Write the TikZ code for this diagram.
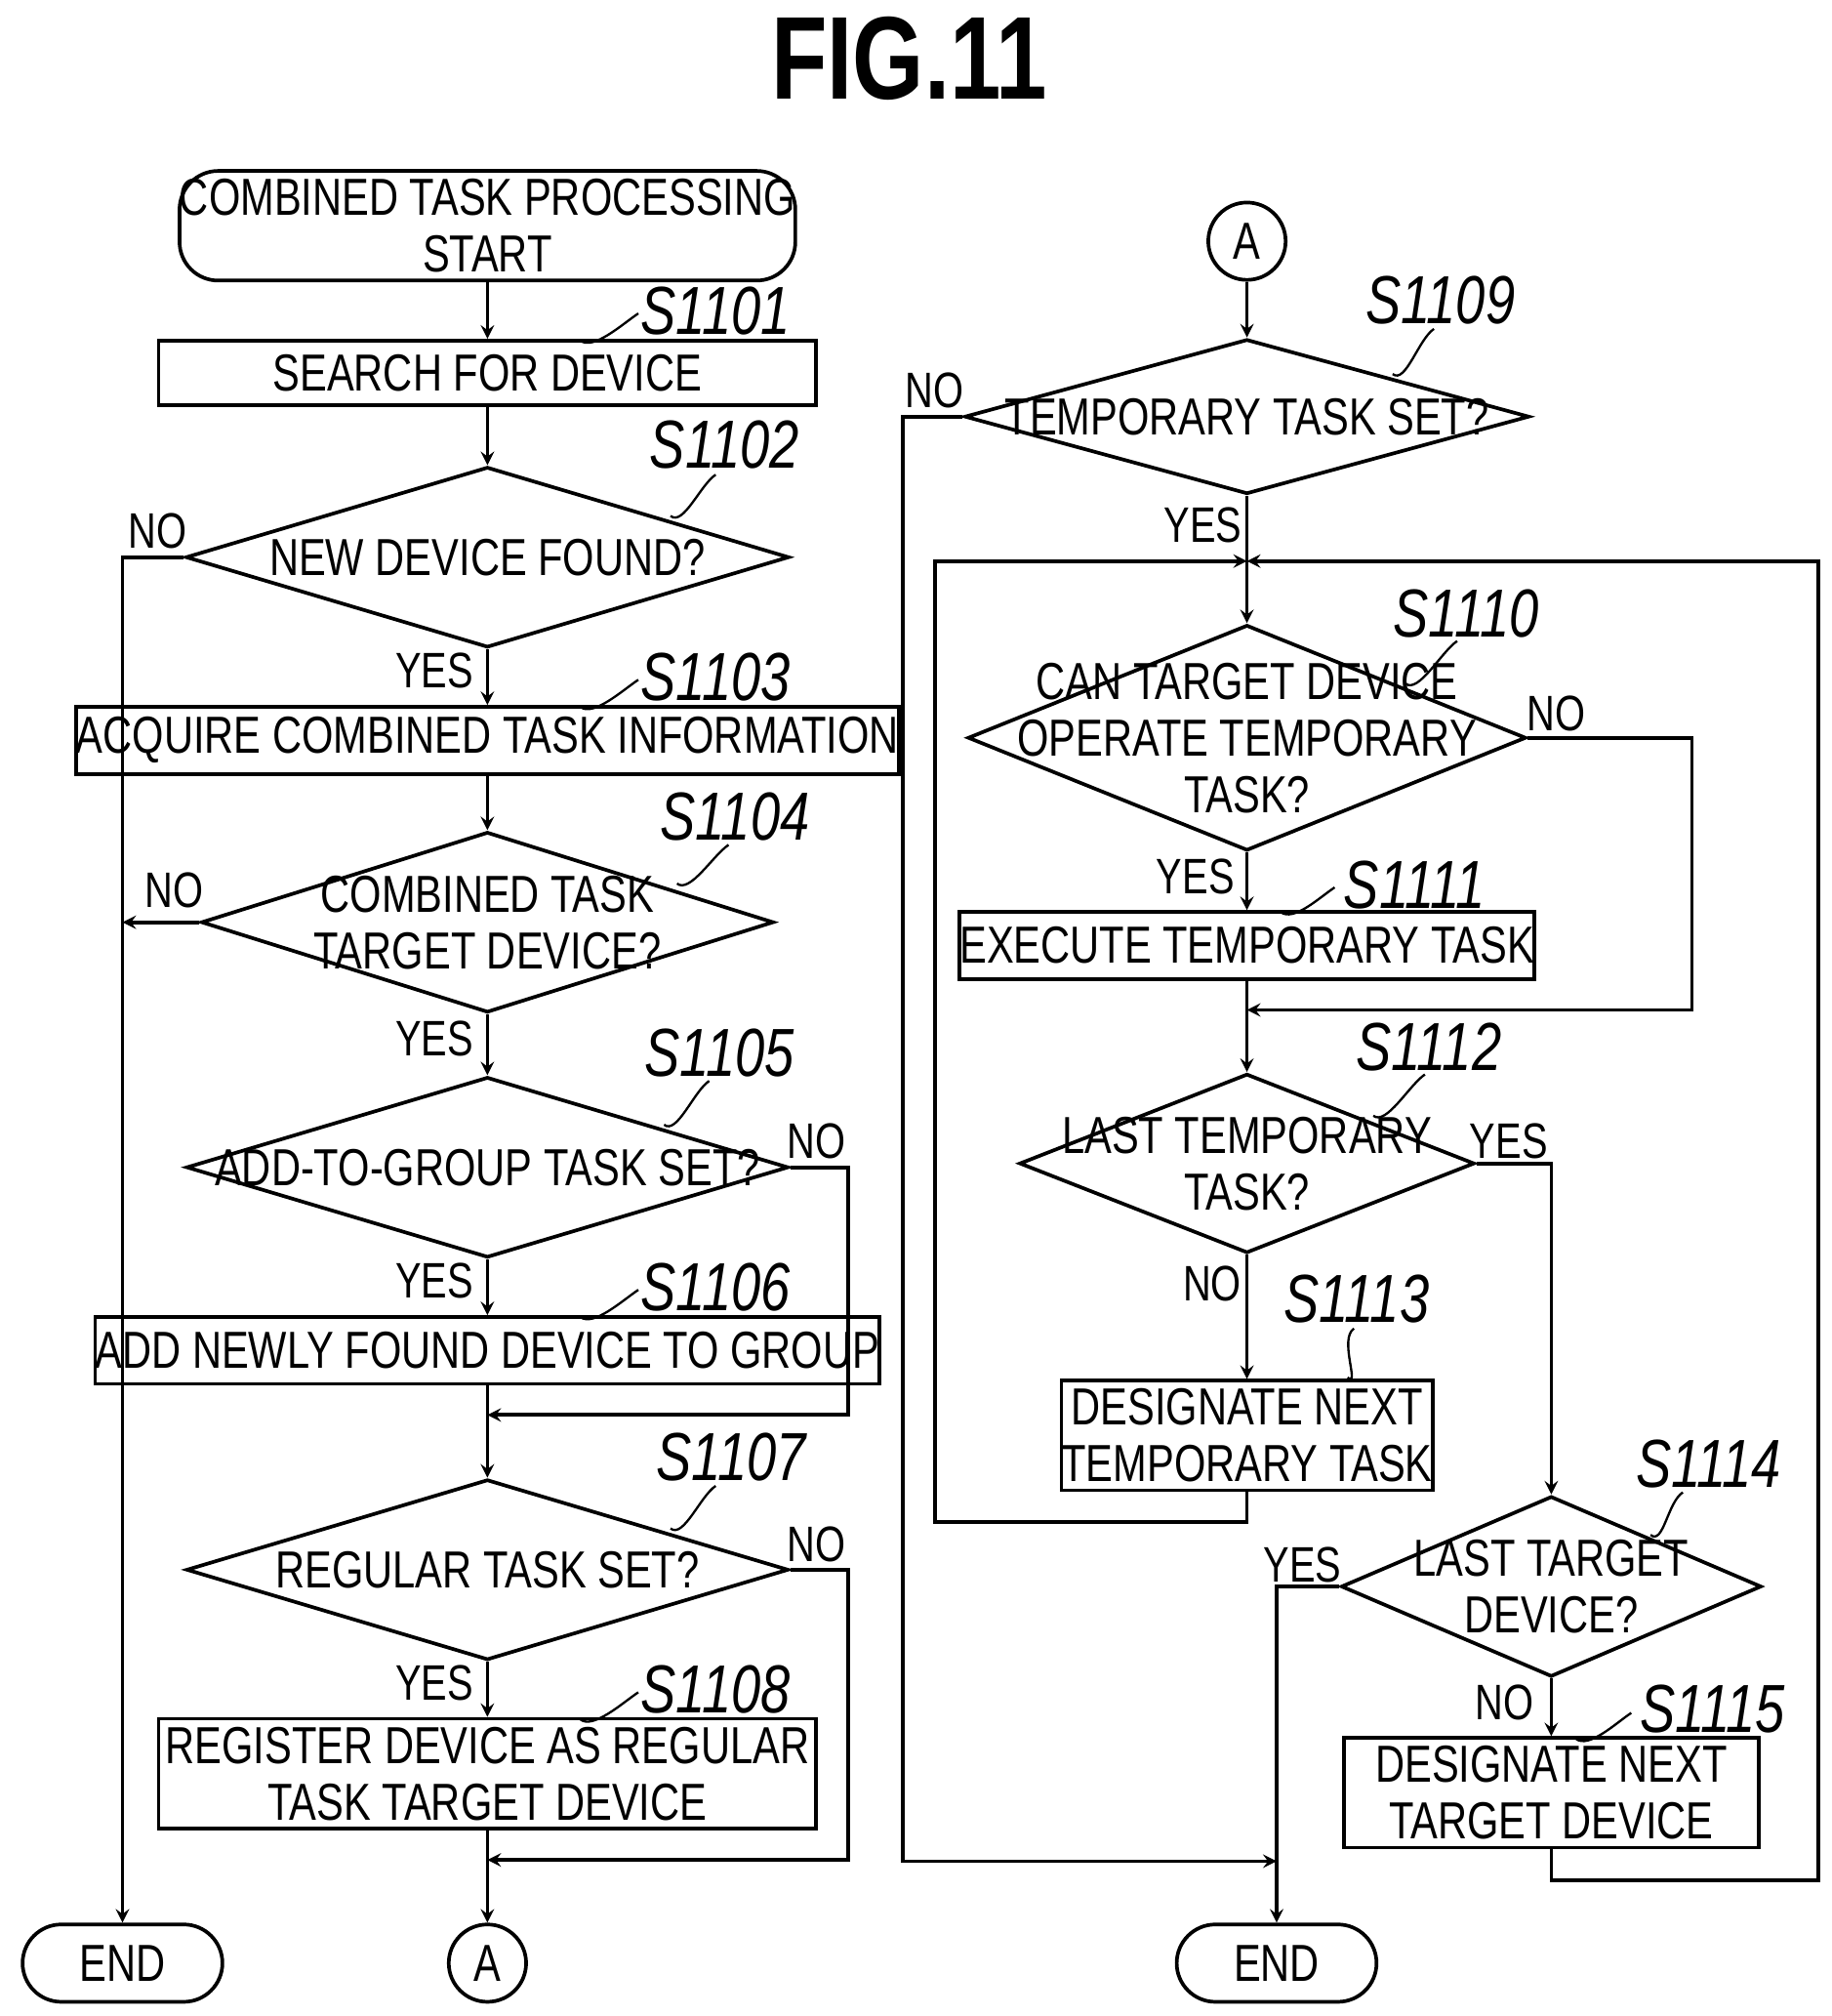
\documentclass[tikz,border=0pt]{standalone}
\usepackage{fontspec}
\setmainfont{Liberation Sans}[FakeStretch=0.78]
\usetikzlibrary{shapes.geometric, arrows}
\tikzstyle{term} = [rectangle, rounded corners=0.6cm, draw=black, line width=1.6pt, align=center, inner sep=0pt]
\tikzstyle{proc} = [rectangle, draw=black, line width=1.6pt, align=center, inner sep=0pt]
\tikzstyle{dec} = [diamond, draw=black, line width=1.6pt, inner sep=0pt]
\tikzstyle{conn} = [circle, draw=black, line width=1.6pt, minimum size=1.2cm, inner sep=0pt]
\tikzstyle{stepl} = [font=\fontsize{30}{30}\selectfont\itshape]
\tikzstyle{yn} = [font=\fontsize{22}{22}\selectfont]
\tikzstyle{arrow} = [line width=1.6pt,->,>=stealth]
\tikzstyle{line} = [line width=1.6pt]
\newcommand{\leader}[2]{\draw[line width=1pt] #1 .. controls +(10,8) and +(-12,8) .. #2;}

\begin{document}
\begin{tikzpicture}[x=0.02cm, y=-0.02cm, font=\fontsize{23}{25}\selectfont]
  \useasboundingbox (0,0) rectangle (1420,1563);
  \node (TTL) at (705,45) {\fontsize{52}{52}\selectfont\bfseries FIG.11};

  % left column
  \node (STRT) [term, minimum width=8.8cm, minimum height=1.7cm] at (378,175) {COMBINED TASK PROCESSING\\START};
  \node (P1101) [proc, minimum width=10.2cm, minimum height=1cm] at (378,289) {SEARCH FOR DEVICE};
  \node (D1102) [dec, minimum width=9.36cm, minimum height=2.8cm, label=center:{NEW DEVICE FOUND?}] at (378,432) {};
  \node (P1103) [proc, minimum width=10.2cm, minimum height=1.04cm] at (378,574) {ACQUIRE COMBINED TASK INFORMATION};
  \node (D1104) [dec, minimum width=8.88cm, minimum height=2.8cm, label={[align=center]center:COMBINED TASK\\TARGET DEVICE?}] at (378,715) {};
  \node (D1105) [dec, minimum width=9.34cm, minimum height=2.8cm, label=center:{ADD-TO-GROUP TASK SET?}] at (378,905) {};
  \node (P1106) [proc, minimum width=10.2cm, minimum height=1.04cm] at (378,1047) {ADD NEWLY FOUND DEVICE TO GROUP};
  \coordinate (M1) at (378,1097);
  \node (D1107) [dec, minimum width=9.34cm, minimum height=2.8cm, label=center:{REGULAR TASK SET?}] at (378,1217) {};
  \node (P1108) [proc, minimum width=10.2cm, minimum height=1.7cm] at (378,1375) {REGISTER DEVICE AS REGULAR\\TASK TARGET DEVICE};
  \coordinate (M2) at (378,1442);
  \node (CA1) [conn] at (378,1522) {A};
  \node (END1) [term, minimum width=3.1cm, minimum height=1.2cm] at (95,1522) {END};

  % right column
  \node (CA2) [conn] at (967,187) {A};
  \node (D1109) [dec, minimum width=8.76cm, minimum height=2.4cm, label=center:{TEMPORARY TASK SET?}] at (967,323) {};
  \coordinate (M3) at (967,435);
  \node (D1110) [dec, minimum width=8.66cm, minimum height=3.5cm, label={[align=center]center:CAN TARGET DEVICE\\OPERATE TEMPORARY\\TASK?}] at (967,572) {};
  \node (P1111) [proc, minimum width=7.64cm, minimum height=1.04cm] at (967,733) {EXECUTE TEMPORARY TASK};
  \coordinate (M4) at (967,783);
  \node (D1112) [dec, minimum width=7.06cm, minimum height=2.78cm, label={[align=center]center:LAST TEMPORARY\\TASK?}] at (967,902) {};
  \node (P1113) [proc, minimum width=5.24cm, minimum height=1.7cm] at (967,1113) {DESIGNATE NEXT\\TEMPORARY TASK};
  \node (D1114) [dec, minimum width=6.52cm, minimum height=2.8cm, label={[align=center]center:LAST TARGET\\DEVICE?}] at (1203,1230) {};
  \node (P1115) [proc, minimum width=6.44cm, minimum height=1.7cm] at (1203,1390) {DESIGNATE NEXT\\TARGET DEVICE};
  \coordinate (M5) at (990,1443);
  \node (END2) [term, minimum width=3.1cm, minimum height=1.2cm] at (990,1522) {END};

  % left flow
  \draw [arrow] (STRT) -- (P1101);
  \draw [arrow] (P1101) -- (D1102);
  \draw [arrow] (D1102) -- (P1103);
  \draw [arrow] (P1103) -- (D1104);
  \draw [arrow] (D1104) -- (D1105);
  \draw [arrow] (D1105) -- (P1106);
  \draw [line] (P1106) -- (M1);
  \draw [arrow] (M1) -- (D1107);
  \draw [arrow] (D1107) -- (P1108);
  \draw [line] (P1108) -- (M2);
  \draw [arrow] (M2) -- (CA1);
  \draw [arrow] (D1102.west) -| (END1.north);
  \draw [arrow] (D1104.west) -- (95,715);
  \draw [arrow] (D1105.east) -- (658,905) |- (M1);
  \draw [arrow] (D1107.east) -- (658,1217) |- (M2);

  % right flow
  \draw [arrow] (CA2) -- (D1109);
  \draw [line] (D1109) -- (M3);
  \draw [arrow] (M3) -- (D1110);
  \draw [arrow] (D1110) -- (P1111);
  \draw [line] (P1111) -- (M4);
  \draw [arrow] (M4) -- (D1112);
  \draw [arrow] (D1110.east) -- (1312,572) |- (M4);
  \draw [arrow] (D1112) -- (P1113);
  \draw [arrow] (P1113.south) -- (967,1180) -- (725,1180) |- (M3);
  \draw [arrow] (D1112.east) -- (1203,902) -- (D1114.north);
  \draw [arrow] (D1114) -- (P1115);
  \draw [arrow] (P1115.south) -- (1203,1458) -- (1410,1458) |- (M3);
  \draw [arrow] (D1114.west) -- (990,1230) -- (END2.north);
  \draw [arrow] (D1109.west) -- (700,323) |- (M5);

  % yes / no labels
  \node [yn] at (337,520) {YES};
  \node [yn] at (122,412) {NO};
  \node [yn] at (337,805) {YES};
  \node [yn] at (135,690) {NO};
  \node [yn] at (633,885) {NO};
  \node [yn] at (337,993) {YES};
  \node [yn] at (633,1197) {NO};
  \node [yn] at (337,1305) {YES};
  \node [yn] at (725,303) {NO};
  \node [yn] at (933,407) {YES};
  \node [yn] at (1207,553) {NO};
  \node [yn] at (927,680) {YES};
  \node [yn] at (1170,885) {YES};
  \node [yn] at (940,995) {NO};
  \node [yn] at (1010,1213) {YES};
  \node [yn] at (1167,1320) {NO};

  % step labels
  \node [stepl] at (555,241) {S1101};
  \node [stepl] at (562,345) {S1102};
  \node [stepl] at (555,525) {S1103};
  \node [stepl] at (570,633) {S1104};
  \node [stepl] at (558,816) {S1105};
  \node [stepl] at (555,998) {S1106};
  \node [stepl] at (567,1130) {S1107};
  \node [stepl] at (555,1310) {S1108};
  \node [stepl] at (1117,233) {S1109};
  \node [stepl] at (1137,476) {S1110};
  \node [stepl] at (1097,686) {S1111};
  \node [stepl] at (1108,812) {S1112};
  \node [stepl] at (1052,1007) {S1113};
  \node [stepl] at (1325,1135) {S1114};
  \node [stepl] at (1328,1325) {S1115};
  \leader{(450,264)}{(495,243)}
  \leader{(520,400)}{(555,368)}
  \leader{(450,548)}{(495,527)}
  \leader{(525,685)}{(565,655)}
  \leader{(515,872)}{(550,838)}
  \leader{(450,1021)}{(495,1000)}
  \leader{(520,1185)}{(555,1152)}
  \leader{(450,1333)}{(495,1312)}
  \leader{(1080,290)}{(1112,255)}
  \leader{(1090,530)}{(1130,497)}
  \leader{(993,707)}{(1035,688)}
  \leader{(1065,865)}{(1105,833)}
  \leader{(1045,1068)}{(1050,1030)}
  \leader{(1280,1190)}{(1305,1157)}
  \leader{(1222,1348)}{(1265,1328)}
\end{tikzpicture}
\end{document}
